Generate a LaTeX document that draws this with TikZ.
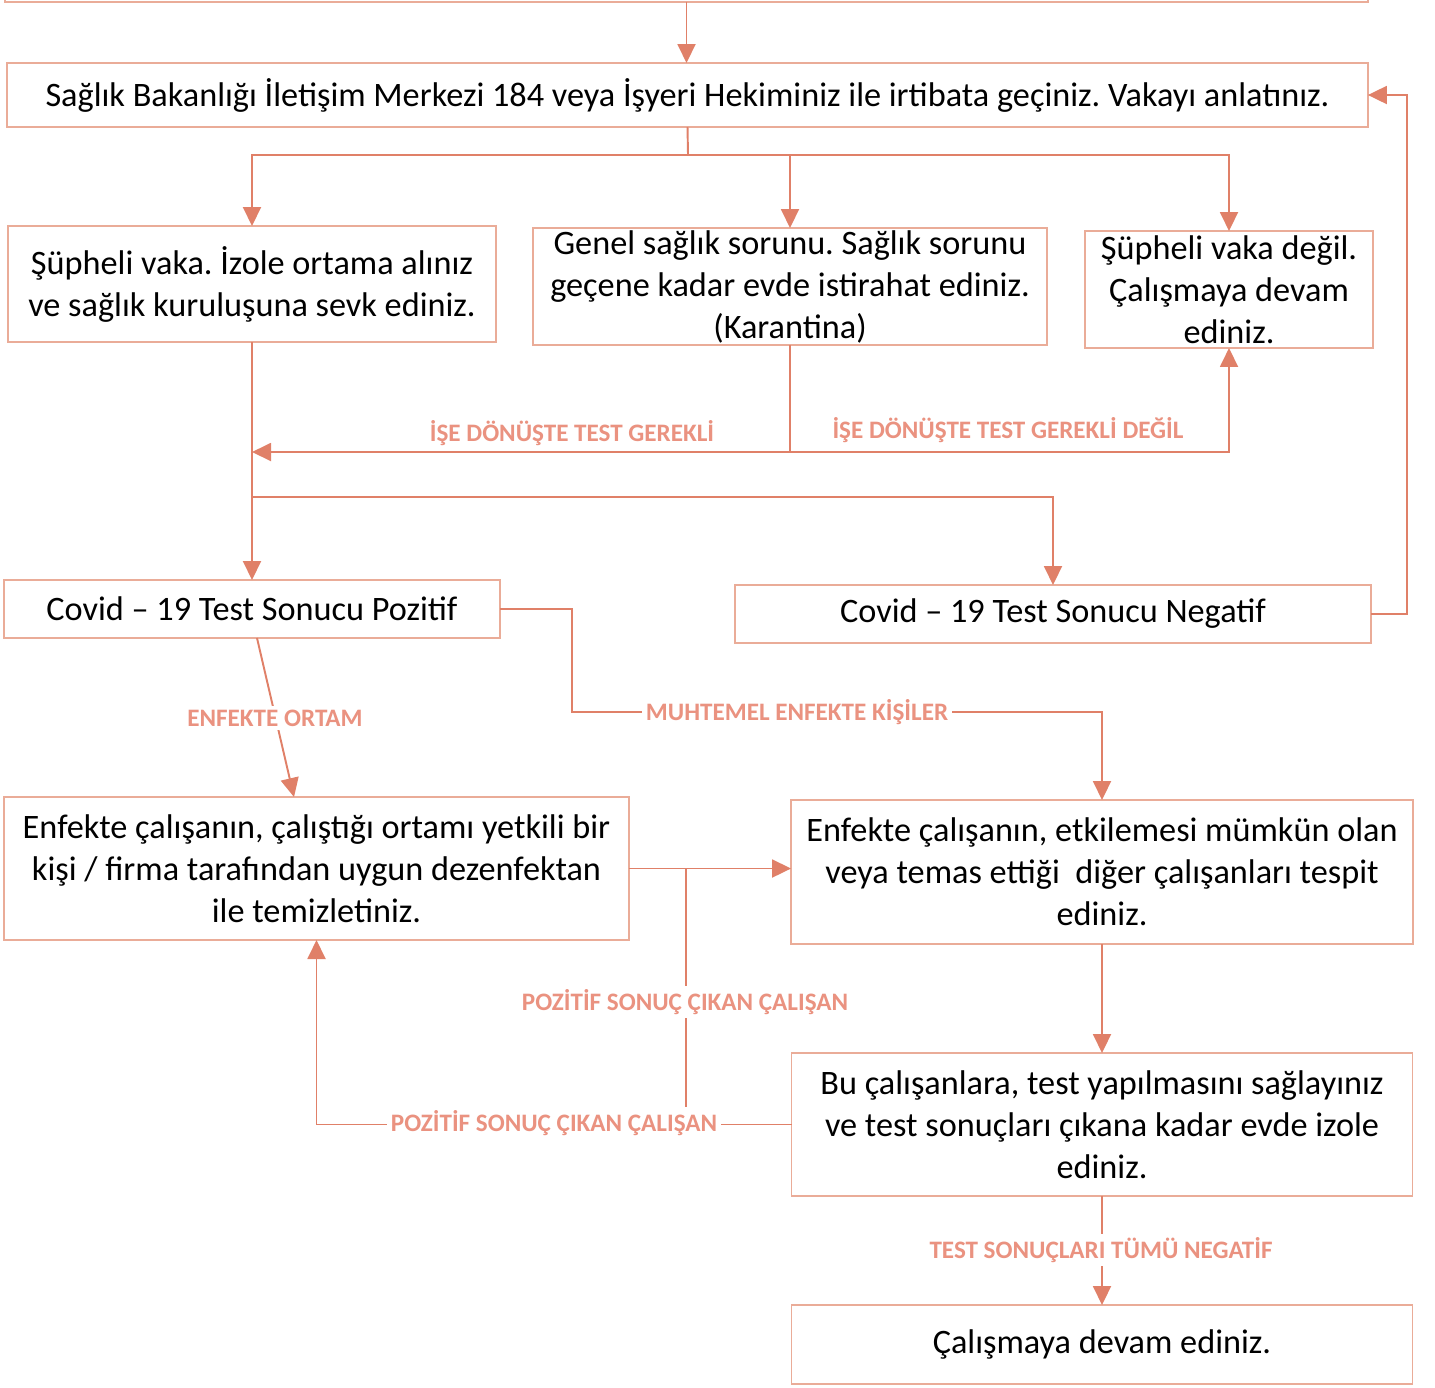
\documentclass[tikz,border=0pt]{standalone}
\usepackage{fontspec}
\setmainfont{Carlito}
\usepackage{tikz}
\usetikzlibrary{arrows.meta,positioning}
\definecolor{kenar}{RGB}{234,172,152}
\definecolor{hatc}{RGB}{224,128,104}
\definecolor{etik}{RGB}{234,146,128}
\frenchspacing
\tikzset{
  kutu/.style={rectangle, draw=kenar, line width=1pt, fill=white, inner sep=0pt, outer sep=0pt,
               align=center, font=\fontsize{19.5}{23.9}\selectfont},
  arr/.style={-{Triangle[length=3.8mm, width=3.6mm]}, line width=1.1pt, draw=hatc},
  hat/.style={line width=1.1pt, draw=hatc},
  etiket/.style={fill=white, inner sep=2pt, text=etik, font=\fontsize{14.3}{17}\selectfont\bfseries},
}
\begin{document}
\begin{tikzpicture}[x=0.02cm, y=-0.02cm]
    \useasboundingbox (0,0) rectangle (1435,1387);
    % kutular
    \node[kutu, minimum width=27.26cm, minimum height=1.6cm] (onceki) at (686.5,-38) {};
    \node[kutu, minimum width=27.22cm, minimum height=1.28cm] (ana) at (687.5,95)
      {Sağlık Bakanlığı İletişim Merkezi 184 veya İşyeri Hekiminiz ile irtibata geçiniz. Vakayı anlatınız.};
    \node[kutu, minimum width=9.76cm, minimum height=2.32cm] (sup) at (252,284)
      {Şüpheli vaka. İzole ortama alınız\\ve sağlık kuruluşuna sevk ediniz.};
    \node[kutu, minimum width=10.28cm, minimum height=2.34cm] (gen) at (790,286.5)
      {Genel sağlık sorunu. Sağlık sorunu\\geçene kadar evde istirahat ediniz.\\(Karantina)};
    \node[kutu, minimum width=5.76cm, minimum height=2.34cm] (deg) at (1229,289.5)
      {Şüpheli vaka değil.\\Çalışmaya devam\\ediniz.};
    \node[kutu, minimum width=9.92cm, minimum height=1.16cm] (poz) at (252,609)
      {Covid -- 19 Test Sonucu Pozitif};
    \node[kutu, minimum width=12.72cm, minimum height=1.16cm] (neg) at (1053,614)
      {Covid -- 19 Test Sonucu Negatif};
    \node[kutu, minimum width=12.5cm, minimum height=2.86cm] (ort) at (316.5,868.5)
      {Enfekte çalışanın, çalıştığı ortamı yetkili bir\\kişi / firma tarafından uygun dezenfektan\\ile temizletiniz.};
    \node[kutu, minimum width=12.44cm, minimum height=2.88cm] (kis) at (1102,872)
      {Enfekte çalışanın, etkilemesi mümkün olan\\veya temas ettiği\ \ diğer çalışanları tespit\\ediniz.};
    \node[kutu, minimum width=12.42cm, minimum height=2.86cm] (izo) at (1102,1124.5)
      {Bu çalışanlara, test yapılmasını sağlayınız\\ve test sonuçları çıkana kadar evde izole\\ediniz.};
    \node[kutu, minimum width=12.42cm, minimum height=1.58cm] (dev) at (1102,1344.5)
      {Çalışmaya devam ediniz.};
    % baglantilar
    \coordinate (dal) at (688,155);
    \coordinate (don) at (790,452);
    \coordinate (ay) at (252,497);
    \coordinate (mk) at (572,712);
    \coordinate (pz) at (686,1122);
    \draw[arr] (onceki.south) -- (onceki.south |- ana.north);
    \draw[hat] (ana.south) -- (dal);
    \draw[arr] (dal) -| (sup.north);
    \draw[arr] (dal) -| (gen.north);
    \draw[arr] (dal) -| (deg.north);
    \draw[arr] (gen.south) |- (sup.south |- don);
    \draw[arr] (don) -| (deg.south);
    \draw[arr] (sup.south) -- (poz.north);
    \draw[arr] (ay) -| (neg.north);
    \draw[arr] (neg.east) -- ++(36,0) |- (ana.east);
    \draw[arr] (poz.east) -| (mk) -| (kis.north);
    \draw[arr] ([xshift=0.1cm]poz.south) -- ([xshift=-0.45cm]ort.north);
    \draw[arr] (ort.east) -- (ort.east -| kis.west);
    \draw[hat] (pz) -- (pz |- ort.east);
    \draw[arr] (kis.south) -- (izo.north);
    \draw[arr] (izo.west) -| (ort.south);
    \draw[arr] (izo.south) -- (dev.north);
    % etiketler
    \node[etiket] (l1) at (572,433) {İŞE DÖNÜŞTE TEST GEREKLİ};
    \node[etiket] (l2) at (1008,430) {İŞE DÖNÜŞTE TEST GEREKLİ DEĞİL};
    \node[etiket] (l3) at (797,712) {MUHTEMEL ENFEKTE KİŞİLER};
    \node[etiket] (l4) at (275,718) {ENFEKTE ORTAM};
    \node[etiket] (l5) at (685,1002) {POZİTİF SONUÇ ÇIKAN ÇALIŞAN};
    \node[etiket] (l6) at (554,1123) {POZİTİF SONUÇ ÇIKAN ÇALIŞAN};
    \node[etiket] (l7) at (1101,1250) {TEST SONUÇLARI TÜMÜ NEGATİF};
\end{tikzpicture}
\end{document}
